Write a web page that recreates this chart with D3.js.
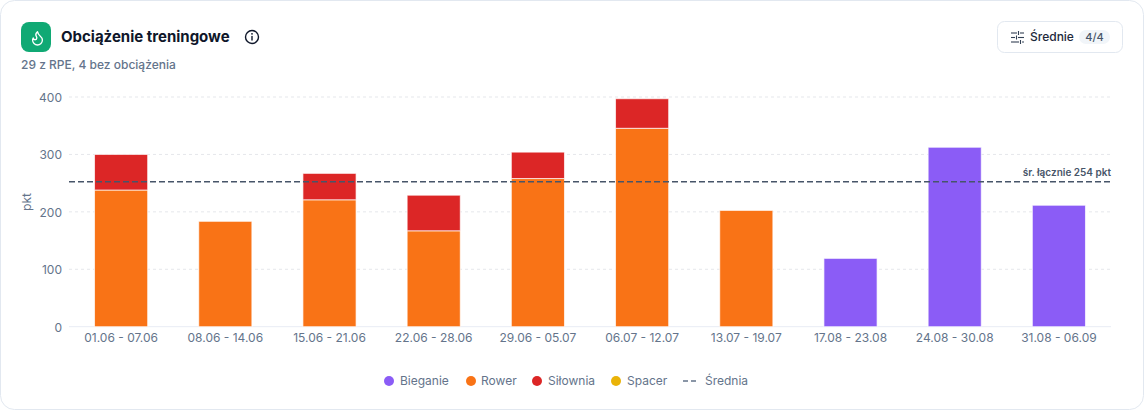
<!DOCTYPE html>
<html><head><meta charset="utf-8">
<script src="https://cdn.jsdelivr.net/npm/d3@7/dist/d3.min.js"></script>
<style>
html,body{margin:0;padding:0;background:#fff;width:1144px;height:410px;overflow:hidden}
svg{display:block}
text{font-family:Inter,sans-serif}
</style></head><body>
<svg id="c" width="1144" height="410"></svg>
<script>
const categories=["01.06 - 07.06","08.06 - 14.06","15.06 - 21.06","22.06 - 28.06","29.06 - 05.07","06.07 - 12.07","13.07 - 19.07","17.08 - 23.08","24.08 - 30.08","31.08 - 06.09"];
const bieganie=[0,0,0,0,0,0,0,119,312.5,211.5];
const rower=[238,183.5,221,167,258,345.5,202.5,0,0,0];
const silownia=[62,0,46,62,46,51.5,0,0,0,0];
const spacer=[0,0,0,0,0,0,0,0,0,0];
const yTicks=[0,100,200,300,400];
const meanLine=252.5;
const meanLabel="śr. łącznie 254 pkt";
const legendNames=["Bieganie","Rower","Siłownia","Spacer","Średnia"];
const colors={Bieganie:"#8b5cf6",Rower:"#f97316",Siłownia:"#dc2626",Spacer:"#eab308"};

const svg=d3.select("#c");
svg.append("rect").attr("x",.5).attr("y",.5).attr("width",1143).attr("height",409).attr("rx",14).attr("fill","#fff").attr("stroke","#e2e8f0");

// header
const g0=svg.append("g");
g0.append("rect").attr("x",21).attr("y",22).attr("width",30).attr("height",30).attr("rx",8).attr("fill","#10a974");
g0.append("path").attr("transform","translate(29.1,29.6) scale(0.7)")
  .attr("d","M8.5 14.5A2.5 2.5 0 0 0 11 12c0-1.38-.5-2-1-3-1.07-2.14-.22-4.05 2-6 .5 2.5 2 4.9 4 6.5 2 1.6 3 3.5 3 5.5a7 7 0 1 1-14 0c0-1.15.43-2.29 1-3a2.5 2.5 0 0 0 2.5 2.5z")
  .attr("fill","none").attr("stroke","#fff").attr("stroke-width",1.9).attr("stroke-linecap","round").attr("stroke-linejoin","round");
g0.append("text").attr("x",61).attr("y",42).attr("font-size",15).attr("font-weight",700).attr("fill","#0f172a").text("Obciążenie treningowe");
g0.append("circle").attr("cx",252).attr("cy",37).attr("r",6.5).attr("fill","none").attr("stroke","#0f172a").attr("stroke-width",1.4);
g0.append("line").attr("x1",252).attr("x2",252).attr("y1",36.5).attr("y2",40).attr("stroke","#0f172a").attr("stroke-width",1.4).attr("stroke-linecap","round");
g0.append("circle").attr("cx",252).attr("cy",33.8).attr("r",.9).attr("fill","#0f172a");
g0.append("text").attr("x",21).attr("y",69).attr("font-size",12).attr("font-weight",500).attr("fill","#64748b").text("29 z RPE, 4 bez obciążenia");

// button
const b=svg.append("g");
b.append("rect").attr("x",997.5).attr("y",21.5).attr("width",125).attr("height",31).attr("rx",7).attr("fill","#fff").attr("stroke","#e2e8f0");
const ic=b.append("g").attr("stroke","#334155").attr("stroke-width",1.1);
[[1011,1017,33],[1020,1024,33],[1011,1015,37.5],[1018,1024,37.5],[1011,1019,42],[1022,1024,42]].forEach(d=>ic.append("line").attr("x1",d[0]).attr("x2",d[1]).attr("y1",d[2]).attr("y2",d[2]));
[[1018.5,31,35],[1016.5,35.5,39.5],[1020.5,40,44]].forEach(d=>ic.append("line").attr("x1",d[0]).attr("x2",d[0]).attr("y1",d[1]).attr("y2",d[2]));
b.append("text").attr("x",1030).attr("y",41).attr("font-size",12).attr("font-weight",500).attr("fill","#1e293b").text("Średnie");
b.append("rect").attr("x",1079).attr("y",30).attr("width",31).attr("height",14).attr("rx",7).attr("fill","#f1f5f9");
b.append("text").attr("x",1094.5).attr("y",41).attr("text-anchor","middle").attr("font-size",11).attr("font-weight",500).attr("fill","#475569").text("4/4");

// chart
const x=d3.scaleBand().domain(categories).range([69,1111]).paddingInner(.49).paddingOuter(.245);
const y=d3.scaleLinear().domain([0,400]).range([326.7,97]);
const grid=svg.append("g");
grid.selectAll("line").data(yTicks.filter(d=>d>0)).join("line")
  .attr("x1",69).attr("x2",1111).attr("y1",d=>y(d)).attr("y2",d=>y(d))
  .attr("stroke","#e5e7eb").attr("stroke-dasharray","3 3");
grid.append("line").attr("x1",69).attr("x2",1111).attr("y1",y(0)).attr("y2",y(0)).attr("stroke","#e8ecf4").attr("stroke-width",1);

const rows=categories.map((c,i)=>({c,Bieganie:bieganie[i],Rower:rower[i],Siłownia:silownia[i],Spacer:spacer[i]}));
const stack=d3.stack().keys(["Bieganie","Rower","Siłownia","Spacer"])(rows);
svg.append("g").selectAll("g").data(stack).join("g").attr("fill",d=>colors[d.key])
 .selectAll("rect").data(d=>d.filter(e=>e[1]>e[0])).join("rect")
 .attr("x",d=>x(d.data.c)).attr("width",x.bandwidth())
 .attr("y",d=>y(d[1])).attr("height",d=>y(d[0])-y(d[1]))
 .attr("stroke","#fff").attr("stroke-opacity",.7).attr("stroke-width",1);

const yAxis=d3.axisLeft(y).tickValues(yTicks).tickSize(0).tickPadding(7);
const ya=svg.append("g").attr("transform","translate(69,0.5)").call(yAxis);
ya.select(".domain").remove();
ya.selectAll("text").attr("font-size",12).attr("fill","#64748b").attr("font-family","Inter,sans-serif");
const xAxis=d3.axisBottom(x).tickSize(0).tickPadding(6);
const xa=svg.append("g").attr("transform","translate(0,327)").call(xAxis);
xa.select(".domain").remove();
xa.selectAll("text").attr("font-size",12).attr("fill","#64748b").attr("font-family","Inter,sans-serif");
svg.append("text").attr("transform","translate(31,202) rotate(-90)").attr("text-anchor","middle").attr("font-size",12).attr("fill","#64748b").text("pkt");

svg.append("line").attr("x1",69).attr("x2",1111).attr("y1",y(meanLine)).attr("y2",y(meanLine))
  .attr("stroke","#475569").attr("stroke-width",1.4).attr("stroke-dasharray","6 3");
svg.append("text").attr("x",1111).attr("y",176).attr("text-anchor","end").attr("font-size",10).attr("font-weight",600).attr("fill","#475569").text(meanLabel);

// legend
const tx=[400,481,548,627,705];
const lg=svg.append("g");
legendNames.forEach((n,i)=>{
  if(colors[n]) lg.append("circle").attr("cx",[389,471,537,616][i]).attr("cy",381).attr("r",5).attr("fill",colors[n]);
  else lg.append("line").attr("x1",683).attr("x2",699).attr("y1",381).attr("y2",381).attr("stroke","#64748b").attr("stroke-width",1.4).attr("stroke-dasharray","5 3");
  lg.append("text").attr("x",tx[i]).attr("y",385).attr("font-size",12).attr("fill","#64748b").text(n);
});
</script>
</body></html>
